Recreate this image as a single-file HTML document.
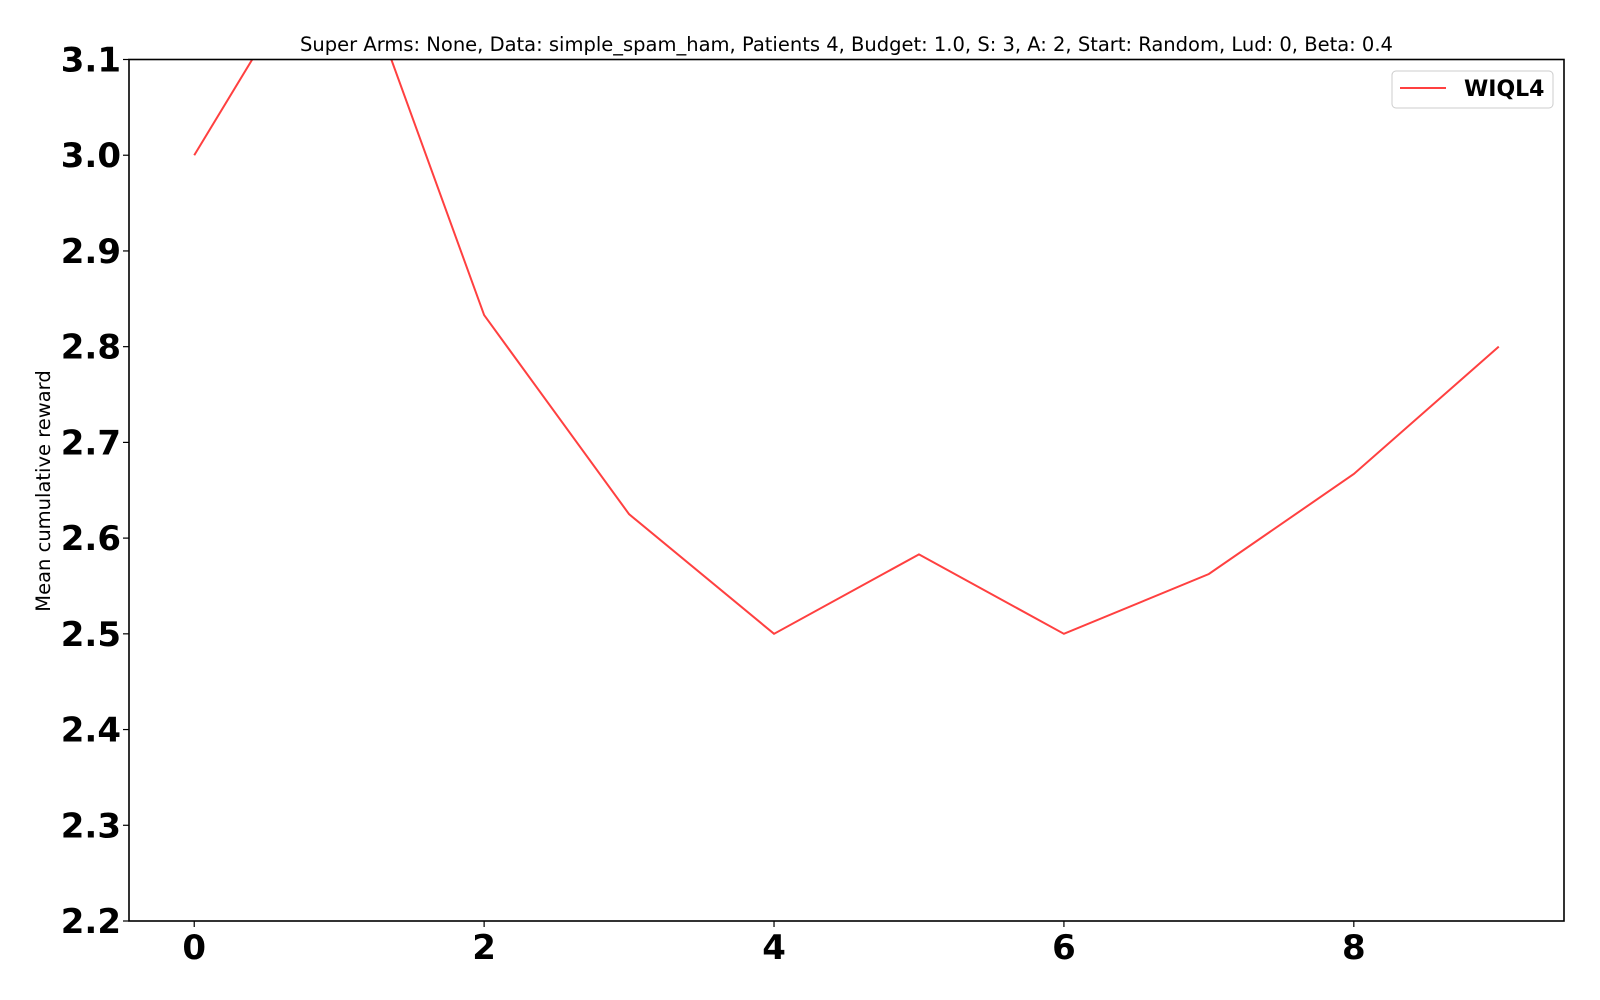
<!DOCTYPE html>
<html><head><meta charset="utf-8"><style>
html,body{margin:0;padding:0;background:#fff;}
svg{display:block;font-family:"DejaVu Sans","Liberation Sans",sans-serif;}
</style></head><body>
<svg id="chart" width="1600" height="1000"></svg>
<script>
const xValues=[0,1,2,3,4,5,6,7,8,9];
const wiqlValues=[3.0,3.25,2.833,2.625,2.5,2.583,2.5,2.5625,2.667,2.8];
const xTicks=[0,2,4,6,8];
const yTicks=[2.2,2.3,2.4,2.5,2.6,2.7,2.8,2.9,3.0,3.1];
const L=129,R=1564,T=59.5,B=921;
const xMin=-0.45,xMax=9.45,yMin=2.2,yMax=3.1;
const NS='http://www.w3.org/2000/svg';
const svg=document.getElementById('chart');
function sx(v){return L+(v-xMin)/(xMax-xMin)*(R-L);}
function sy(v){return B-(v-yMin)/(yMax-yMin)*(B-T);}
function mk(t,a,p){const e=document.createElementNS(NS,t);for(const k in a)e.setAttribute(k,a[k]);(p||svg).appendChild(e);return e;}
const defs=mk('defs',{});
const cp=mk('clipPath',{id:'clip'},defs);
mk('rect',{x:L,y:T,width:R-L,height:B-T},cp);
const title=mk('text',{x:(L+R)/2,y:51,'text-anchor':'middle','font-size':'19.5'});
title.textContent='Super Arms: None, Data: simple_spam_ham, Patients 4, Budget: 1.0, S: 3, A: 2, Start: Random, Lud: 0, Beta: 0.4';


const yl=mk('text',{x:0,y:0,'text-anchor':'middle','font-size':'19.5',transform:'translate(50,491) rotate(-90)'});
yl.textContent='Mean cumulative reward';


let d='';
xValues.forEach((x,i)=>{d+=(i?'L':'M')+sx(x).toFixed(2)+','+sy(wiqlValues[i]).toFixed(2);});
const line=mk('path',{d:d,fill:'none',stroke:'#ff4040','stroke-width':'2','clip-path':'url(#clip)'});


const frame=mk('rect',{x:L,y:T,width:R-L,height:B-T,fill:'none',stroke:'#000','stroke-width':'1.6'});


xTicks.forEach(v=>{
  const x=sx(v);
  const tk=mk('line',{x1:x,x2:x,y1:B,y2:B+6,stroke:'#000','stroke-width':'1.2'});
  
  
  const t=mk('text',{x:x,y:959,'text-anchor':'middle','font-size':'34','font-weight':'bold'});
  t.textContent=String(v);
  
  
});
yTicks.forEach(v=>{
  const y=sy(v);
  const tk=mk('line',{x1:L-6,x2:L,y1:y,y2:y,stroke:'#000','stroke-width':'1.2'});
  
  
  const t=mk('text',{x:121,y:y+12,'text-anchor':'end','font-size':'34','font-weight':'bold'});
  t.textContent=v.toFixed(1);
  
  
});
const lg=mk('g',{});


mk('rect',{x:1392,y:71,width:161,height:37,rx:4,fill:'#fff',stroke:'#ccc','stroke-width':'1'},lg);
mk('line',{x1:1400,x2:1446,y1:88,y2:88,stroke:'#ff4040','stroke-width':'2'},lg);
const lt=mk('text',{x:1464,y:96,'font-size':'22','font-weight':'bold'},lg);
lt.textContent='WIQL4';


</script>
</body></html>
